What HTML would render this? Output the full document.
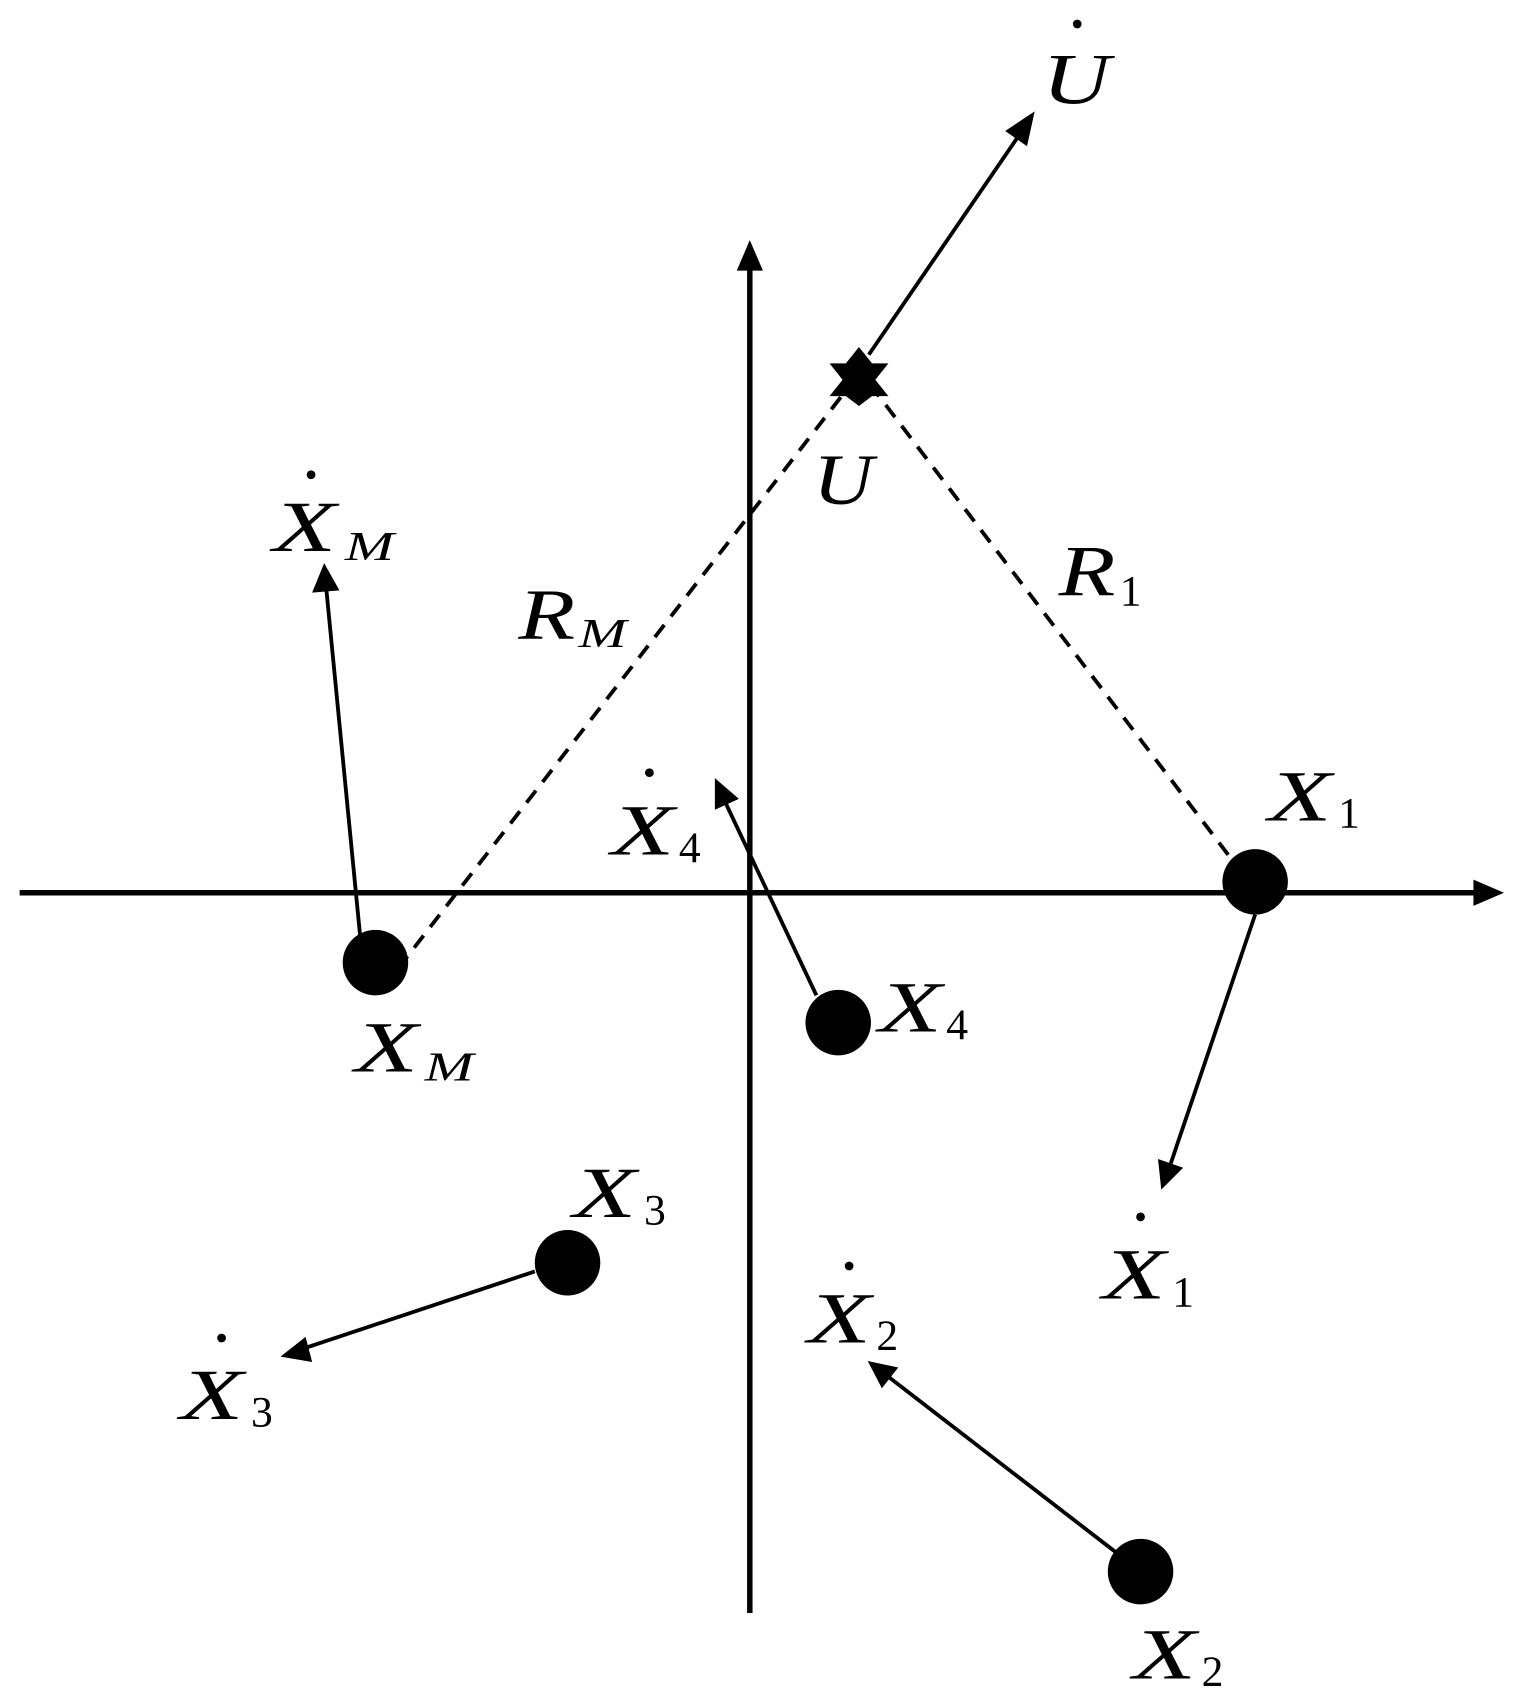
<!DOCTYPE html>
<html><head><meta charset="utf-8"><style>
html,body{margin:0;padding:0;background:#fff}
svg{display:block}
text{font-family:"Liberation Serif",serif;fill:#000}
.v{font-style:italic;font-size:66px}
.s{font-size:40px}
.si{font-style:italic;font-size:38px}
</style></head><body>
<svg width="1516" height="1708" viewBox="0 0 1389 1565" preserveAspectRatio="none" xmlns="http://www.w3.org/2000/svg">
<g stroke="#000" fill="none">
<line x1="18" y1="818" x2="1352" y2="818" stroke-width="5"/>
<line x1="687" y1="1478" x2="687" y2="245" stroke-width="5"/>
<g stroke-width="3.5" stroke-dasharray="14,10">
<line x1="785" y1="345" x2="372" y2="878"/>
<line x1="797" y1="352" x2="1132" y2="792"/>
</g>
<g stroke-width="3.5">
<line x1="796" y1="325" x2="935" y2="122"/>
<line x1="330" y1="858" x2="299" y2="540"/>
<line x1="748" y1="912" x2="664" y2="734"/>
<line x1="1150" y1="838" x2="1072" y2="1068"/>
<line x1="490" y1="1165" x2="280" y2="1235"/>
<line x1="1022" y1="1422" x2="812" y2="1260"/>
</g>
</g>
<g fill="#000">
<polygon points="1378,818 1350,806 1350,830"/>
<polygon points="687,220 675,248 699,248"/>
<polygon points="948,102 921,120 941,134"/>
<polygon points="297,516 286,543 311,541"/>
<polygon points="655,713 655,742 677,732"/>
<polygon points="1064,1090 1061,1062 1084,1070"/>
<polygon points="257,1243 280,1225 286,1248"/>
<polygon points="795,1247 808,1272 823,1253"/>
<polygon points="787,318 799,333 814,333 802,348 814,363 799,363 787,372 775,363 760,363 772,348 760,333 775,333"/>
<circle cx="344" cy="882" r="30"/>
<circle cx="1150" cy="808" r="30"/>
<circle cx="768" cy="937" r="30"/>
<circle cx="520" cy="1157" r="30"/>
<circle cx="1045" cy="1440" r="30"/>
<circle cx="987" cy="22" r="4"/>
<circle cx="285" cy="435" r="4"/>
<circle cx="595" cy="708" r="4"/>
<circle cx="203" cy="1226" r="4"/>
<circle cx="778" cy="1160" r="4"/>
<circle cx="1045" cy="1115" r="4"/>
</g>
<text class="v" x="955" y="95" textLength="62" lengthAdjust="spacingAndGlyphs">U</text>
<text class="v" x="745" y="462" textLength="55" lengthAdjust="spacingAndGlyphs">U</text>
<text class="v" x="970" y="545" textLength="52" lengthAdjust="spacingAndGlyphs">R</text><text class="s" x="1026" y="555">1</text>
<text class="v" x="475" y="585" textLength="52" lengthAdjust="spacingAndGlyphs">R</text><text class="si" x="530" y="593" textLength="44" lengthAdjust="spacingAndGlyphs">M</text>
<text class="v" x="250" y="505" textLength="58" lengthAdjust="spacingAndGlyphs">X</text><text class="si" x="316" y="513" textLength="45" lengthAdjust="spacingAndGlyphs">M</text>
<text class="v" x="1162" y="752" textLength="58" lengthAdjust="spacingAndGlyphs">X</text><text class="s" x="1226" y="758">1</text>
<text class="v" x="560" y="783" textLength="58" lengthAdjust="spacingAndGlyphs">X</text><text class="s" x="622" y="790">4</text>
<text class="v" x="805" y="945" textLength="58" lengthAdjust="spacingAndGlyphs">X</text><text class="s" x="867" y="952">4</text>
<text class="v" x="325" y="982" textLength="58" lengthAdjust="spacingAndGlyphs">X</text><text class="si" x="389" y="990" textLength="45" lengthAdjust="spacingAndGlyphs">M</text>
<text class="v" x="525" y="1115" textLength="58" lengthAdjust="spacingAndGlyphs">X</text><text class="s" x="590" y="1122">3</text>
<text class="v" x="165" y="1300" textLength="58" lengthAdjust="spacingAndGlyphs">X</text><text class="s" x="230" y="1307">3</text>
<text class="v" x="740" y="1230" textLength="58" lengthAdjust="spacingAndGlyphs">X</text><text class="s" x="803" y="1237">2</text>
<text class="v" x="1010" y="1190" textLength="58" lengthAdjust="spacingAndGlyphs">X</text><text class="s" x="1074" y="1197">1</text>
<text class="v" x="1038" y="1538" textLength="58" lengthAdjust="spacingAndGlyphs">X</text><text class="s" x="1101" y="1545">2</text>
</svg>
</body></html>
